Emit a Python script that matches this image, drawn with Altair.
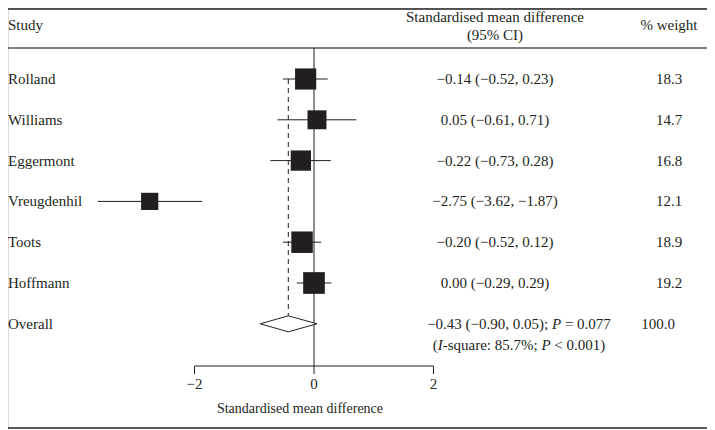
import altair as alt
import pandas as pd

# ---- data ----
studies = ["Rolland", "Williams", "Eggermont", "Vreugdenhil", "Toots", "Hoffmann"]
smd = [-0.14, 0.05, -0.22, -2.75, -0.20, 0.00]
ci_low = [-0.52, -0.61, -0.73, -3.62, -0.52, -0.29]
ci_high = [0.23, 0.71, 0.28, -1.87, 0.12, 0.29]
weights = [18.3, 14.7, 16.8, 12.1, 18.9, 19.2]

overall_label = "Overall"
overall_smd = -0.43
overall_low = -0.90
overall_high = 0.05
overall_weight = 100.0
overall_p = "0.077"
overall_i2 = "85.7%"
overall_het_p = "0.001"

tick_values = [-2, 0, 2]
header_study = "Study"
header_ci = ["Standardised mean difference", "(95% CI)"]
header_weight = "% weight"
axis_title = "Standardised mean difference"

MINUS = "\u2212"


def fmt(v):
    return f"{v:.2f}".replace("-", MINUS)


def fmt_int(v):
    return str(v).replace("-", MINUS)


# ---- layout (pixels, chart coords = reference coords - 8) ----
W, H = 699, 421
OFF = 8


def Y(ref):
    return ref - OFF


row0 = Y(79)
step = 40.8
xzero = 306
px_per_unit = 59.75
CI_X = 487
OV_X = 511
W_X = 661
OW_X = 650

INK = "#231f20"
FONT = "Liberation Serif"
FS = 15

xscale = alt.Scale(domain=[-xzero / px_per_unit, (W - xzero) / px_per_unit], nice=False, zero=False)
yscale = alt.Scale(domain=[-row0 / step, (H - row0) / step], nice=False, zero=False, reverse=True)

# Liberation Serif (Times metrics) advance widths per 1000 em, for laying out mixed italic text
REG = {c: 500 for c in "0123456789"}
REG.update({".": 250, ",": 250, "(": 333, ")": 333, ";": 278, " ": 250, "=": 564, MINUS: 564,
            "<": 564, "%": 833, ":": 278, "-": 333, "s": 389, "q": 500, "u": 500, "a": 444,
            "r": 333, "e": 444, "P": 556, "I": 333})
ITA = dict(REG)
ITA.update({"P": 611, "I": 333})


def seg_width(s, italic, fs):
    t = ITA if italic else REG
    return sum(t.get(c, 500) for c in s) * fs / 1000


def layout(segments, center, fs):
    total = sum(seg_width(s, it, fs) for s, it in segments)
    x = center - total / 2
    out = []
    for s, it in segments:
        lead = len(s) - len(s.lstrip(" "))
        out.append((s.strip(" "), it, x + seg_width(" " * lead, it, fs)))
        x += seg_width(s, it, fs)
    return out


rows = pd.DataFrame({
    "study": studies,
    "row": list(range(len(studies))),
    "smd": smd,
    "low": ci_low,
    "high": ci_high,
    "weight": weights,
    "ci_text": [f"{fmt(e)} ({fmt(l)}, {fmt(h)})" for e, l, h in zip(smd, ci_low, ci_high)],
    "w_text": [f"{w:.1f}" for w in weights],
})
orow = len(studies)
overall = pd.DataFrame({"study": [overall_label], "row": [orow], "smd": [overall_smd],
                        "w_text": [f"{overall_weight:.1f}"]})
half = 8 / step
diamond = pd.DataFrame({
    "x": [overall_low, overall_smd, overall_high],
    "top": [orow, orow - half, orow],
    "bot": [orow, orow + half, orow],
})
ticks = pd.DataFrame({"x": tick_values, "label": [fmt_int(v) for v in tick_values]})
one = pd.DataFrame({"a": [0]})

X = lambda f: alt.X(f, type="quantitative", scale=xscale, axis=None)
Yr = lambda f: alt.Y(f, type="quantitative", scale=yscale, axis=None)

txt = dict(font=FONT, fontSize=FS, color=INK, baseline="middle")

hlines = [
    alt.Chart(one).mark_rule(color=INK, strokeWidth=1.6).encode(x=alt.value(0), x2=alt.value(W), y=alt.value(1)),
    alt.Chart(one).mark_rule(color="#555555", strokeWidth=1.3).encode(x=alt.value(0), x2=alt.value(W), y=alt.value(Y(48))),
    alt.Chart(one).mark_rule(color=INK, strokeWidth=1.6).encode(x=alt.value(0), x2=alt.value(W), y=alt.value(Y(428))),
]

headers = [
    alt.Chart(one).mark_text(align="left", **txt).encode(x=alt.value(0), y=alt.value(Y(25)), text=alt.value(header_study)),
    alt.Chart(one).mark_text(align="center", **txt).encode(x=alt.value(CI_X), y=alt.value(Y(17)), text=alt.value(header_ci[0])),
    alt.Chart(one).mark_text(align="center", **txt).encode(x=alt.value(CI_X), y=alt.value(Y(35)), text=alt.value(header_ci[1])),
    alt.Chart(one).mark_text(align="center", **txt).encode(x=alt.value(W_X), y=alt.value(Y(25)), text=alt.value(header_weight)),
]

zero_line = alt.Chart(one).mark_rule(color=INK, strokeWidth=1).encode(
    x=alt.X("z:Q", scale=xscale, axis=None), y=alt.value(Y(48)), y2=alt.value(Y(366))
).transform_calculate(z="0")

axis_line = alt.Chart(one).mark_rule(color=INK, strokeWidth=1).encode(
    x=alt.X("a0:Q", scale=xscale, axis=None), x2="a1:Q", y=alt.value(Y(366))
).transform_calculate(a0=str(min(tick_values)), a1=str(max(tick_values)))

tick_marks = alt.Chart(ticks).mark_rule(color=INK, strokeWidth=1).encode(
    x=X("x"), y=alt.value(Y(366)), y2=alt.value(Y(366) + 8)
)
tick_labels = alt.Chart(ticks).mark_text(align="center", **txt).encode(
    x=X("x"), y=alt.value(Y(384)), text="label:N"
)
axis_title_mark = alt.Chart(one).mark_text(align="center", font=FONT, fontSize=14, color=INK, baseline="middle").encode(
    x=alt.value(292), y=alt.value(Y(409)), text=alt.value(axis_title)
)

dashed = alt.Chart(overall).mark_rule(color=INK, strokeWidth=1, strokeDash=[5, 4]).encode(
    x=X("smd"), y=alt.Y("y0:Q", scale=yscale, axis=None), y2="row:Q"
).transform_calculate(y0="0")

ci_rules = alt.Chart(rows).mark_rule(color=INK, strokeWidth=1).encode(
    x=X("low"), x2="high:Q", y=Yr("row")
)
squares = alt.Chart(rows).mark_square(color=INK, filled=True, opacity=1).encode(
    x=X("smd"), y=Yr("row"),
    size=alt.Size("weight:Q", scale=alt.Scale(domain=[0, 20], range=[0, 490]), legend=None),
)
diamond_mark = alt.Chart(diamond).mark_area(fill="white", stroke=INK, strokeWidth=1, opacity=1).encode(
    x=X("x"), y=Yr("top"), y2="bot:Q"
)

labels = alt.Chart(rows).mark_text(align="left", **txt).encode(x=alt.value(0), y=Yr("row"), text="study:N")
ci_texts = alt.Chart(rows).mark_text(align="center", **txt).encode(x=alt.value(CI_X), y=Yr("row"), text="ci_text:N")
w_texts = alt.Chart(rows).mark_text(align="center", **txt).encode(x=alt.value(W_X), y=Yr("row"), text="w_text:N")

o_label = alt.Chart(overall).mark_text(align="left", **txt).encode(x=alt.value(0), y=Yr("row"), text="study:N")
o_w = alt.Chart(overall).mark_text(align="center", **txt).encode(x=alt.value(OW_X), y=Yr("row"), text="w_text:N")

line1 = [(f"{fmt(overall_smd)} ({fmt(overall_low)}, {fmt(overall_high)}); ", False),
         ("P", True), (f" = {overall_p}", False)]
line2 = [("(", False), ("I", True), (f"-square: {overall_i2}; ", False), ("P", True),
         (f" < {overall_het_p})", False)]

o_segments = []
for segs, dy in ((line1, 0), (line2, 21)):
    for s, it, x in layout(segs, OV_X, FS):
        o_segments.append(
            alt.Chart(overall).mark_text(align="left", dy=dy, fontStyle="italic" if it else "normal", **txt)
            .encode(x=alt.value(x), y=Yr("row"), text=alt.value(s))
        )

chart = alt.layer(
    *hlines, *headers, zero_line, axis_line, tick_marks, tick_labels, axis_title_mark,
    dashed, ci_rules, squares, diamond_mark,
    labels, ci_texts, w_texts, o_label, o_w, *o_segments,
).properties(
    width=W, height=H, padding=0, autosize=alt.AutoSizeParams(type="none")
).configure_view(stroke=None).configure(background="white")

chart.save("out.html", embed_options={"renderer": "svg", "actions": False})
